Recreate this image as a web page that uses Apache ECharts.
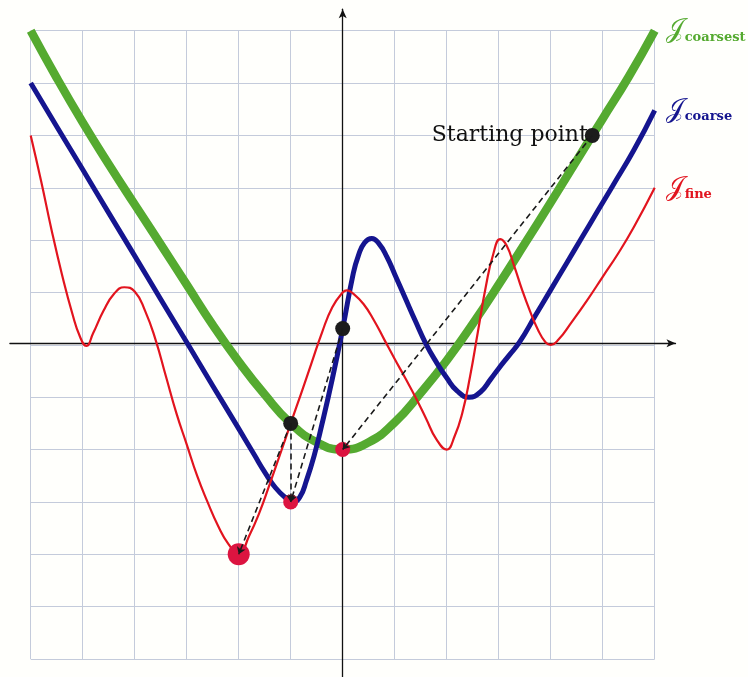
<!DOCTYPE html>
<html>
<head>
<meta charset="utf-8">
<script src="https://cdn.jsdelivr.net/npm/echarts@6/dist/echarts.min.js"></script>
<style>
  html, body { margin: 0; padding: 0; background: #fffffc; }
  #chart { width: 748px; height: 677px; }
</style>
</head>
<body>
<div id="chart"></div>
<script>
// Objective curves at three resolution levels, as [x, J(x)] pairs
const coarsestCurve = [
  [-6, 6], [-5.5, 5.1], [-5, 4.25], [-4.5, 3.45], [-4, 2.68], [-3.5, 1.92], [-3, 1.15],
  [-2.5, 0.38], [-2, -0.32], [-1.5, -0.95], [-1, -1.5], [-0.5, -1.86], [0, -2],
  [0.5, -1.86], [1, -1.48], [1.5, -0.92], [2, -0.3], [2.5, 0.4], [3, 1.15],
  [3.5, 1.93], [4, 2.72], [4.5, 3.52], [5, 4.32], [5.5, 5.12], [6, 6]
];
const coarseCurve = [
  [-6, 5], [-5.5, 4.17], [-5, 3.35], [-4.5, 2.52], [-4, 1.7], [-3.5, 0.87], [-3, 0.05],
  [-2.5, -0.78], [-2, -1.6], [-1.7, -2.1], [-1.5, -2.43], [-1.3, -2.72], [-1.1, -2.92],
  [-0.95, -3.0], [-0.82, -2.9], [-0.7, -2.6], [-0.55, -2.12],
  [-0.4, -1.52], [-0.2, -0.65], [0, 0.31], [0.2, 1.35], [0.3, 1.7], [0.42, 1.95],
  [0.56, 2.03], [0.7, 1.93], [0.85, 1.68], [1.0, 1.35], [1.2, 0.9], [1.4, 0.45],
  [1.6, 0.02], [1.8, -0.33], [2.0, -0.63], [2.2, -0.88], [2.43, -1.0], [2.65, -0.9],
  [2.85, -0.65], [3.0, -0.45], [3.2, -0.2], [3.4, 0.05], [3.7, 0.55], [4.0, 1.05],
  [4.3, 1.55], [4.6, 2.05], [4.9, 2.55], [5.2, 3.05], [5.6, 3.72], [6.0, 4.48]
];
const fineCurve = [
  [-6, 4], [-5.8, 3.13], [-5.6, 2.2], [-5.4, 1.35], [-5.2, 0.6], [-5.05, 0.15], [-4.93, -0.02],
  [-4.8, 0.22], [-4.6, 0.65], [-4.4, 0.97], [-4.2, 1.1], [-4.0, 1.02], [-3.8, 0.65],
  [-3.6, 0.1], [-3.4, -0.6], [-3.2, -1.3], [-3.0, -1.9], [-2.8, -2.5], [-2.6, -3.0],
  [-2.4, -3.45], [-2.2, -3.8], [-2.0, -4.0], [-1.8, -3.65], [-1.6, -3.2], [-1.4, -2.65],
  [-1.2, -2.08], [-1.0, -1.5], [-0.8, -0.93], [-0.6, -0.35], [-0.4, 0.23], [-0.2, 0.72],
  [0.0, 1.0], [0.08, 1.04], [0.2, 0.98], [0.4, 0.78], [0.6, 0.47], [0.8, 0.1],
  [1.0, -0.27], [1.2, -0.63], [1.4, -1.0], [1.6, -1.4], [1.8, -1.8], [2.0, -2.0],
  [2.15, -1.75], [2.3, -1.3], [2.45, -0.6], [2.6, 0.25], [2.75, 1.1], [2.9, 1.75],
  [3.03, 2.02], [3.15, 1.9], [3.3, 1.5], [3.45, 1.05], [3.6, 0.65], [3.75, 0.3],
  [3.9, 0.05], [4.0, 0.0], [4.15, 0.1], [4.4, 0.43], [4.7, 0.85], [5.0, 1.3],
  [5.3, 1.75], [5.6, 2.25], [6.0, 3.0]
];

// Multilevel descent: start, lifted iterates and the minimum reached at each level
const startPoint = [[4.8, 4.0]];
const liftedPoints = [[-1, -1.5], [0, 0.31]];
const levelMinima = [[0, -2], [-1, -3]];
const fineMinimum = [[-2, -4]];
const descentSteps = [
  [[4.8, 4.0], [0, -2]],
  [[0, 0.31], [-1, -3]],
  [[-1, -1.5], [-1, -3]],
  [[-1, -1.5], [-2, -4]]
];
const curveLabels = ['coarsest', 'coarse', 'fine'];
const startLabel = 'Starting point';

const GREEN = '#55aa30', BLUE = '#15158f', RED = '#e2141e', DOT_RED = '#dc1440', DOT_BLACK = '#1c1c1c';
const SERIF = '"DejaVu Serif", "Liberation Serif", serif';

function levelLabel(name, color) {
  return {
    show: true,
    distance: 11,
    formatter: '{j|\uD835\uDCA5}{s|' + name + '}',
    rich: {
      j: { fontFamily: SERIF, fontSize: 26, color: color },
      s: { fontFamily: SERIF, fontSize: 13, fontWeight: 'bold', color: color, padding: [13, 0, 0, 1] }
    }
  };
}

function curve(name, data, color, width) {
  return {
    name: name, type: 'line', data: data, xAxisIndex: 0, yAxisIndex: 0,
    smooth: 0.5, showSymbol: false, symbol: 'none',
    lineStyle: { color: color, width: width, cap: 'butt', join: 'round' },
    endLabel: levelLabel(name, color),
    silent: true, z: 3
  };
}

const chart = echarts.init(document.getElementById('chart'), null, { renderer: 'canvas' });

chart.setOption({
  backgroundColor: '#fffffc',
  animation: false,
  grid: [
    { left: 30.7, top: 30.7, width: 624, height: 628.3 },
    { left: 9.9, top: 9.26, width: 665.6, height: 670.1 }
  ],
  xAxis: [
    {
      gridIndex: 0, type: 'value', min: -6, max: 6, interval: 1,
      axisLine: { show: false }, axisTick: { show: false }, axisLabel: { show: false },
      splitLine: { show: true, lineStyle: { color: '#c4cbdb', width: 1 } }
    },
    {
      gridIndex: 1, type: 'value', min: -6.4, max: 6.4,
      axisLine: { show: true, onZero: true, symbol: ['none', 'arrow'], symbolSize: [6, 9],
                  lineStyle: { color: '#111', width: 1.3 } },
      axisTick: { show: false }, axisLabel: { show: false }, splitLine: { show: false }
    }
  ],
  yAxis: [
    {
      gridIndex: 0, type: 'value', min: -6, max: 6, interval: 1,
      axisLine: { show: false }, axisTick: { show: false }, axisLabel: { show: false },
      splitLine: { show: true, lineStyle: { color: '#c4cbdb', width: 1 } }
    },
    {
      gridIndex: 1, type: 'value', min: -6.4, max: 6.4,
      axisLine: { show: true, onZero: true, symbol: ['none', 'arrow'], symbolSize: [6, 9],
                  lineStyle: { color: '#111', width: 1.3 } },
      axisTick: { show: false }, axisLabel: { show: false }, splitLine: { show: false }
    }
  ],
  series: [
    curve(curveLabels[0], coarsestCurve, GREEN, 8.5),
    curve(curveLabels[1], coarseCurve, BLUE, 5),
    curve(curveLabels[2], fineCurve, RED, 2.2),
    {
      type: 'scatter', xAxisIndex: 0, yAxisIndex: 0, data: levelMinima,
      symbolSize: 15, itemStyle: { color: DOT_RED, opacity: 1 }, z: 5, silent: true
    },
    {
      type: 'scatter', xAxisIndex: 0, yAxisIndex: 0, data: fineMinimum,
      symbolSize: 22, itemStyle: { color: DOT_RED, opacity: 1 }, z: 5, silent: true
    },
    {
      type: 'scatter', xAxisIndex: 0, yAxisIndex: 0, data: liftedPoints,
      symbolSize: 15, itemStyle: { color: DOT_BLACK, opacity: 1 }, z: 5, silent: true
    },
    {
      type: 'scatter', xAxisIndex: 0, yAxisIndex: 0, data: startPoint,
      symbolSize: 15, itemStyle: { color: DOT_BLACK, opacity: 1 }, z: 5, silent: true,
      label: {
        show: true, position: 'left', distance: -3, formatter: startLabel,
        fontFamily: SERIF, fontSize: 22, color: '#111'
      }
    },
    {
      type: 'lines', coordinateSystem: 'cartesian2d', xAxisIndex: 0, yAxisIndex: 0,
      data: descentSteps.map(function (s) { return { coords: s }; }),
      symbol: ['none', 'arrow'], symbolSize: 7,
      lineStyle: { color: '#1a1a1a', width: 1.6, type: [6, 4], opacity: 1, curveness: 0 },
      z: 6, silent: true
    }
  ]
});
</script>
</body>
</html>
